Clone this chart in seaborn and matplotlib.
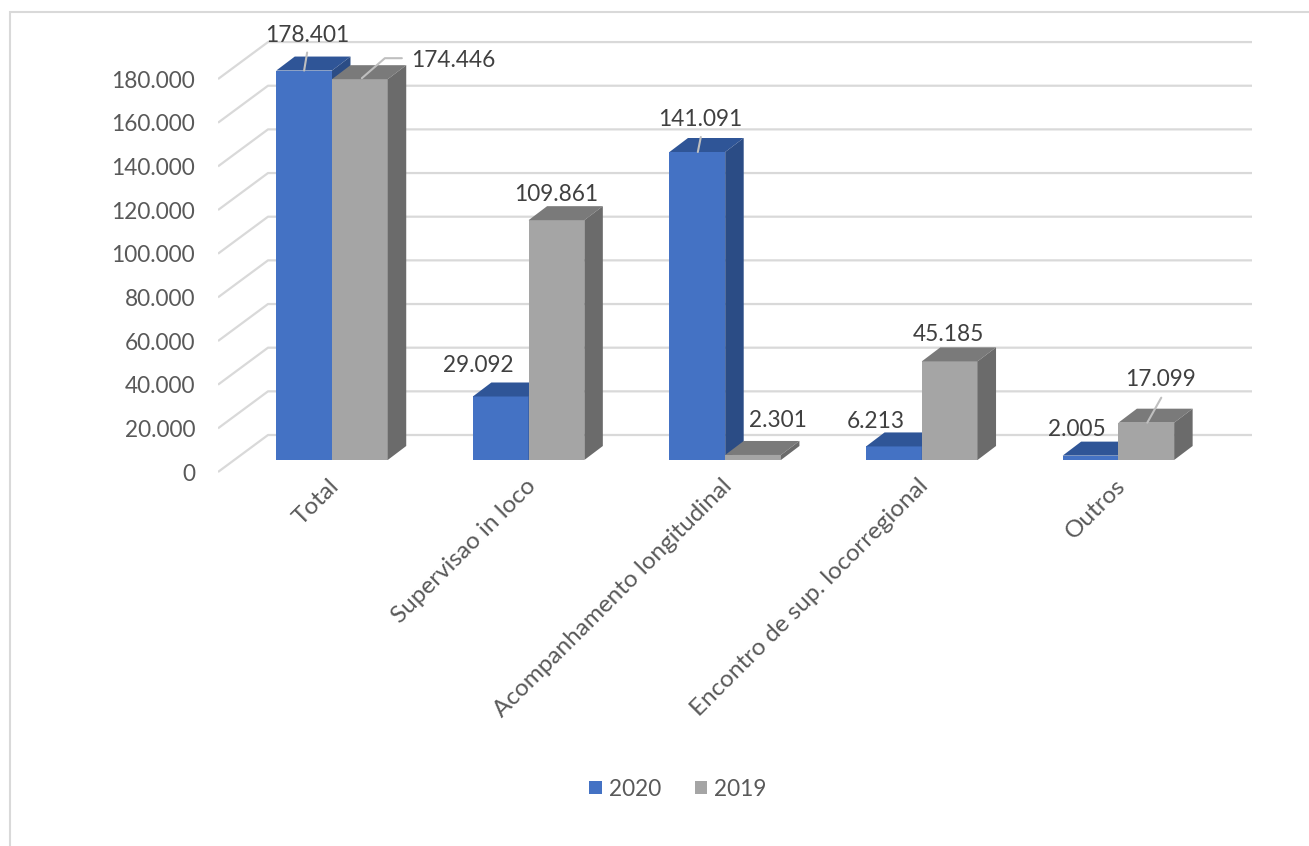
import numpy as np
import pandas as pd
import matplotlib
matplotlib.use('Agg')
import matplotlib.pyplot as plt
import matplotlib.transforms as mtransforms
from matplotlib.patches import Polygon, Rectangle
import seaborn as sns

# Chart data
categorias = ['Total', 'Supervisao in loco', 'Acompanhamento longitudinal',
              'Encontro de sup. locorregional', 'Outros']
anos = ['2020', '2019']
valores_2020 = [178401, 29092, 141091, 6213, 2005]
valores_2019 = [174446, 109861, 2301, 45185, 17099]
rotulos_2020 = ['178.401', '29.092', '141.091', '6.213', '2.005']
rotulos_2019 = ['174.446', '109.861', '2.301', '45.185', '17.099']
y_ticks = [0, 20000, 40000, 60000, 80000, 100000, 120000, 140000, 160000, 180000]
y_tick_labels = ['0', '20.000', '40.000', '60.000', '80.000', '100.000',
                 '120.000', '140.000', '160.000', '180.000']

# Styling / layout (pixel based, figure is 1309x846)
W, H = 1309, 846
cores = {'2020': '#4472C4', '2019': '#A5A5A5'}
cor_topo = {'2020': '#2F5597', '2019': '#7A7A7A'}
cor_lado = {'2020': '#2B4C85', '2019': '#6B6B6B'}
cor_texto = '#404040'
cor_grade = '#D9D9D9'
fs = 16.3

X0, XSTEP = 332, 196.6      # pixel of first category centre, spacing
Y0, PXU = 460, 0.002183     # pixel of bar base, pixels per unit

def px_x(p):
    return (p - X0) / XSTEP

def px_y(p):
    return (Y0 - p) / PXU

def dxp(p):
    return p / XSTEP

def dyp(p):
    return -p / PXU

# label offsets (pixels) relative to the front-top centre of each bar
off_2020 = [(3, -35), (-22, -31), (2.5, -32), (-18, -25), (-14, -26)]
off_2019 = [(93, -19), (0, -26), (25, -34), (-1, -27), (14, -43)]
# leader lines (pixels, relative to bar top centre)
lider_2020 = {0: [(3, -18), (0, 0)], 2: [(3.5, -15), (0.5, 0)]}
lider_2019 = {0: [(42, -21), (25, -21), (2, -1)], 4: [(15, -25), (1, 0)]}

df = pd.DataFrame({
    'categoria': categorias * 2,
    'ano': [anos[0]] * len(categorias) + [anos[1]] * len(categorias),
    'valor': valores_2020 + valores_2019,
})

sns.set_theme(style='white')
plt.rcParams['font.family'] = ['Lato', 'DejaVu Sans']

fig = plt.figure(figsize=(W / 100, H / 100), dpi=100)
fig.patches.append(Rectangle((10 / W, -0.01), 1.0, 1 - 12 / H + 0.01,
                             transform=fig.transFigure, fill=False,
                             edgecolor=cor_grade, linewidth=1.5))
ax = fig.add_axes([218 / W, 1 - 478 / H, (1300 - 218) / W, (478 - 20) / H])

sns.barplot(data=df, x='categoria', y='valor', hue='ano', order=categorias,
            hue_order=anos, palette=cores, width=0.567, gap=0, saturation=1,
            linewidth=0, ax=ax)

ax.set_xlim(px_x(218), px_x(1300))
ax.set_ylim(px_y(478), px_y(20))
for s in ax.spines.values():
    s.set_visible(False)

# 3D walls: gridlines with diagonal connectors
front_off = px_y(472)
back_off = px_y(435)
for v in y_ticks:
    ax.plot([px_x(218), px_x(268), px_x(1252)],
            [v + front_off, v + back_off, v + back_off],
            color=cor_grade, lw=1.6, zorder=0.5, solid_capstyle='butt')

ax.set_yticks([v + front_off for v in y_ticks])
ax.set_yticklabels(y_tick_labels)
ax.tick_params(axis='y', length=0, pad=16.5, labelsize=fs, labelcolor='#595959')
ax.set_xticks(range(len(categorias)))
ax.set_xticklabels(categorias, rotation=45, ha='right', rotation_mode='anchor')
ax.tick_params(axis='x', length=0, pad=-2, labelsize=17.5, labelcolor='#595959')
shift = mtransforms.ScaledTranslation(-4 / 100, 0, fig.dpi_scale_trans)
for lab in ax.get_xticklabels():
    lab.set_transform(lab.get_transform() + shift)
ax.set_xlabel('')
ax.set_ylabel('')

# 3D faces of the bars
ddx, ddy = dxp(18.5), -dyp(14)
for k, (ano, cont) in enumerate(zip(anos, ax.containers)):
    rotulos = rotulos_2020 if ano == '2020' else rotulos_2019
    offs = off_2020 if ano == '2020' else off_2019
    lider = lider_2020 if ano == '2020' else lider_2019
    for i, p in enumerate(cont.patches):
        z = 3 + k
        p.set_zorder(z)
        x, w, h = p.get_x(), p.get_width(), p.get_height()
        topo = Polygon([(x, h), (x + w, h), (x + w + ddx, h + ddy), (x + ddx, h + ddy)],
                       closed=True, facecolor=cor_topo[ano], edgecolor='none', zorder=z + 0.1)
        lado = Polygon([(x + w, 0), (x + w + ddx, ddy), (x + w + ddx, h + ddy), (x + w, h)],
                       closed=True, facecolor=cor_lado[ano], edgecolor='none', zorder=z + 0.1)
        ax.add_patch(topo)
        ax.add_patch(lado)
        cx = x + w / 2
        ox, oy = offs[i]
        ax.text(cx + dxp(ox), h + dyp(oy), rotulos[i], ha='center', va='center',
                fontsize=fs, color=cor_texto, zorder=10)
        if i in lider:
            pts = lider[i]
            ax.plot([cx + dxp(a) for a, b in pts], [h + dyp(b) for a, b in pts],
                    color='#BFBFBF', lw=1.5, zorder=z + 0.2)

sns.move_legend(ax, 'center', bbox_to_anchor=(678 / W, 1 - 789 / H),
                bbox_transform=fig.transFigure, ncol=2, frameon=False, title=None,
                fontsize=fs, handlelength=0.55, handleheight=0.55, handletextpad=0.3,
                columnspacing=1.5, labelcolor='#595959')

fig.savefig('out.png', dpi=100, facecolor='white')
